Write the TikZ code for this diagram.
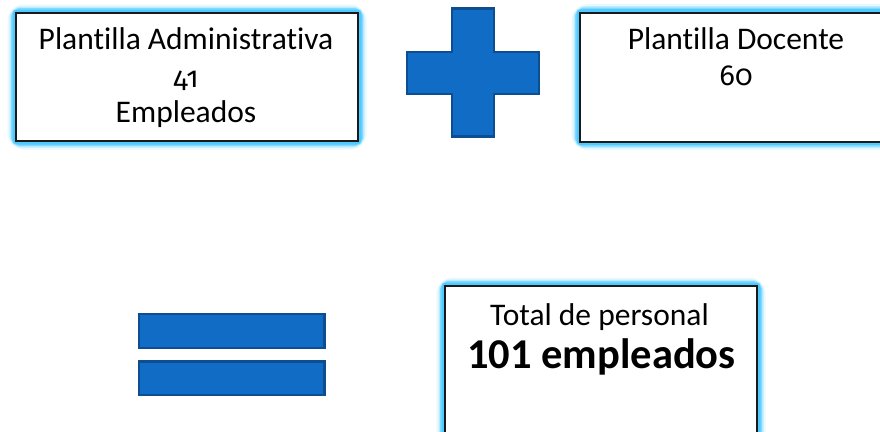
\documentclass[tikz,border=0pt]{standalone}
\usepackage{fontspec}
\setmainfont{Carlito}[Ligatures=NoCommon]
\newfontfamily\oldnum{Fira Sans}[Numbers=OldStyle]
\begin{document}
\begin{tikzpicture}[x=1pt,y=-1pt,
  box/.style={draw=black!90, line width=1.8pt, fill=white},
  txt/.style={font=\fontsize{31.5}{36}\selectfont, anchor=base, inner sep=0pt},
  numtxt/.style={font=\oldnum\fontsize{29}{36}\selectfont, anchor=base, inner sep=0pt},
  bigtxt/.style={font=\fontsize{42.5}{46}\selectfont\bfseries, anchor=base, inner sep=0pt},
  shapefill/.style={fill={rgb,255:red,16;green,108;blue,196}, draw={rgb,255:red,12;green,78;blue,145}, line width=2.6pt, line join=miter}
]
\definecolor{glow}{RGB}{70,200,255}
\useasboundingbox (0,0) rectangle (880,431);
\fill[white] (0,0) rectangle (880,431);

% glow around the boxes
\foreach \a/\b/\c/\d in {16/13/358/141, 580/12.7/892/141.7, 445/286/757/470}{
  \draw[glow, line width=17pt, opacity=0.12, rounded corners=8pt] (\a,\b) rectangle (\c,\d);
  \draw[glow, line width=13pt, opacity=0.25, rounded corners=6pt] (\a,\b) rectangle (\c,\d);
  \draw[glow, line width=10pt, opacity=0.5, rounded corners=4pt] (\a,\b) rectangle (\c,\d);
  \draw[glow, line width=7pt, opacity=0.85, rounded corners=2pt] (\a,\b) rectangle (\c,\d);
}

% boxes
\node[box, minimum width=342pt, minimum height=128pt, inner sep=0pt] (adm) at (187,77) {};
\node[box, minimum width=312pt, minimum height=129pt, inner sep=0pt] (doc) at (736,77.2) {};
\node[box, minimum width=312pt, minimum height=184pt, inner sep=0pt] (tot) at (601,378) {};

% texts
\node[txt] (adm1) at (186,49.3) {Plantilla Administrativa};
\node[numtxt] (adm2) at (186,87.3) {41};
\node[txt] (adm3) at (186,122.7) {Empleados};

\node[txt] (doc1) at (736,49.3) {Plantilla Docente};
\node[numtxt] (doc2) at (736,85) {60};

\node[txt] (tot1) at (599.5,325) {Total de personal};
\node[bigtxt] (tot2) at (601.5,368.3) {101 empleados};

% plus sign
\draw[shapefill] (452,8.5) -- (494,8.5) -- (494,52) -- (539,52) -- (539,94) -- (494,94) -- (494,136.5) -- (452,136.5) -- (452,94) -- (407,94) -- (407,52) -- (452,52) -- cycle;

% equals sign
\draw[shapefill] (139,314) rectangle (324.5,347.8);
\draw[shapefill] (139,361.5) rectangle (324.5,395);
\end{tikzpicture}
\end{document}
